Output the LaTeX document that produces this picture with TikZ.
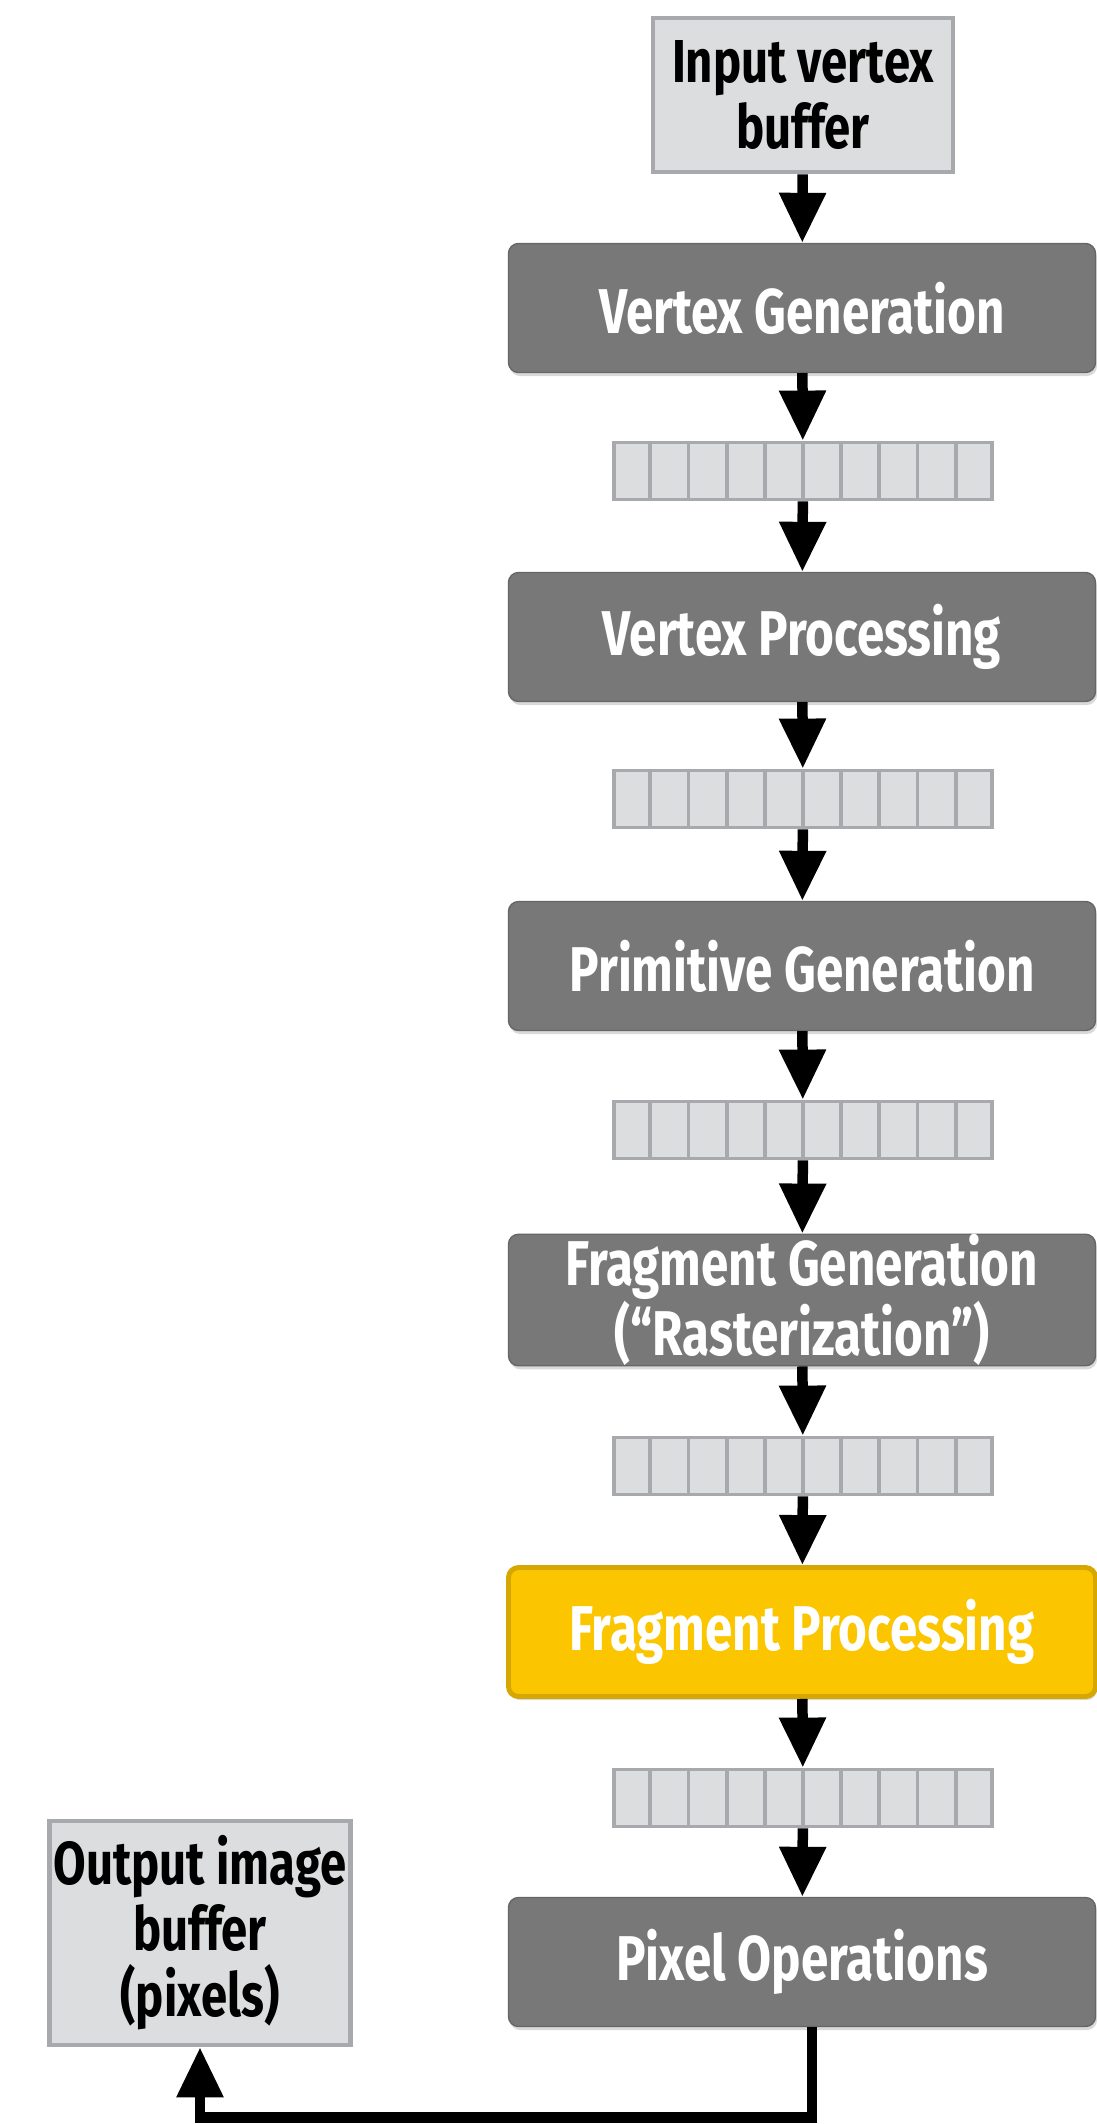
\documentclass[tikz,border=0pt]{standalone}
\usepackage{fontspec}
\newfontfamily\slidefont{Fira Sans}[FakeStretch=0.78]
\usetikzlibrary{positioning,arrows.meta,calc,shadows}
\definecolor{stagegray}{HTML}{787878}
\definecolor{stageedge}{HTML}{666666}
\definecolor{bufgray}{HTML}{DCDDDE}
\definecolor{bufedge}{HTML}{A7A9AC}
\definecolor{fragyellow}{HTML}{FBC500}
\definecolor{fragedge}{HTML}{D6A700}

\begin{document}
\begin{tikzpicture}[
    txt/.style={font=\slidefont\bfseries\fontsize{36}{38.5}\selectfont, align=center},
    stage/.style={txt, draw=stageedge, fill=stagegray, text=white, rounded corners=0.2cm,
                  minimum width=11.74cm, minimum height=2.58cm, line width=0.8pt, inner sep=0pt,
                  drop shadow={shadow xshift=0.03cm, shadow yshift=-0.07cm, opacity=0.3}},
    buf/.style={txt, font=\slidefont\bfseries\fontsize{34.5}{37.5}\selectfont,
                draw=bufedge, fill=bufgray, line width=2.6pt, inner sep=0pt},
    queue/.style={draw=bufedge, fill=bufgray, line width=2.2pt,
                  minimum width=7.56cm, minimum height=1.14cm},
    qline/.style={bufedge, line width=2.2pt},
    arr/.style={-{Triangle[width=0.89cm,length=1cm]}, line width=0.21cm},
]
\useasboundingbox (0,0) rectangle (21.94,-42.48);

% ===== Buffers =====
\node[buf, minimum width=6cm, minimum height=3.08cm] at (16.06,-1.90) (in) {Input vertex\\buffer};
\node[buf, minimum width=6.02cm, minimum height=4.48cm] at (4.0,-38.66) (out) {Output image\\buffer\\(pixels)};

% ===== Pipeline stages =====
\node[stage] at (16.04,-6.16) (vgen) {Vertex Generation};
\node[stage] at (16.04,-12.74) (vproc) {Vertex Processing};
\node[stage] at (16.04,-19.32) (pgen) {Primitive Generation};
\node[stage] at (16.04,-26.00) (fgen) {Fragment Generation\\(“Rasterization”)};
\node[stage, draw=fragedge, fill=fragyellow, line width=2.8pt] at (16.04,-32.64) (fproc) {Fragment Processing};
\node[stage] at (16.04,-39.24) (pix) {Pixel Operations};

% ===== Queues between stages =====
\node[queue] at (16.06,-9.42) (q1) {};
\node[queue] at (16.06,-15.98) (q2) {};
\node[queue] at (16.06,-22.60) (q3) {};
\node[queue] at (16.06,-29.32) (q4) {};
\node[queue] at (16.06,-35.96) (q5) {};
\foreach \q in {q1,q2,q3,q4,q5}
  \foreach \i in {1,...,9}
    \draw[qline] ($(\q.north west)!\i/10!(\q.north east)$) -- ($(\q.south west)!\i/10!(\q.south east)$);

% ===== Arrows =====
\draw[arr] (in) -- (vgen);
\draw[arr] (vgen) -- (q1);
\draw[arr] (q1) -- (vproc);
\draw[arr] (vproc) -- (q2);
\draw[arr] (q2) -- (pgen);
\draw[arr] (pgen) -- (q3);
\draw[arr] (q3) -- (fgen);
\draw[arr] (fgen) -- (q4);
\draw[arr] (q4) -- (fproc);
\draw[arr] (fproc) -- (q5);
\draw[arr] (q5) -- (pix);
\draw[arr] ([xshift=0.2cm]pix.south) -- ++(0,-1.81) -| (out.south);

\end{tikzpicture}
\end{document}
